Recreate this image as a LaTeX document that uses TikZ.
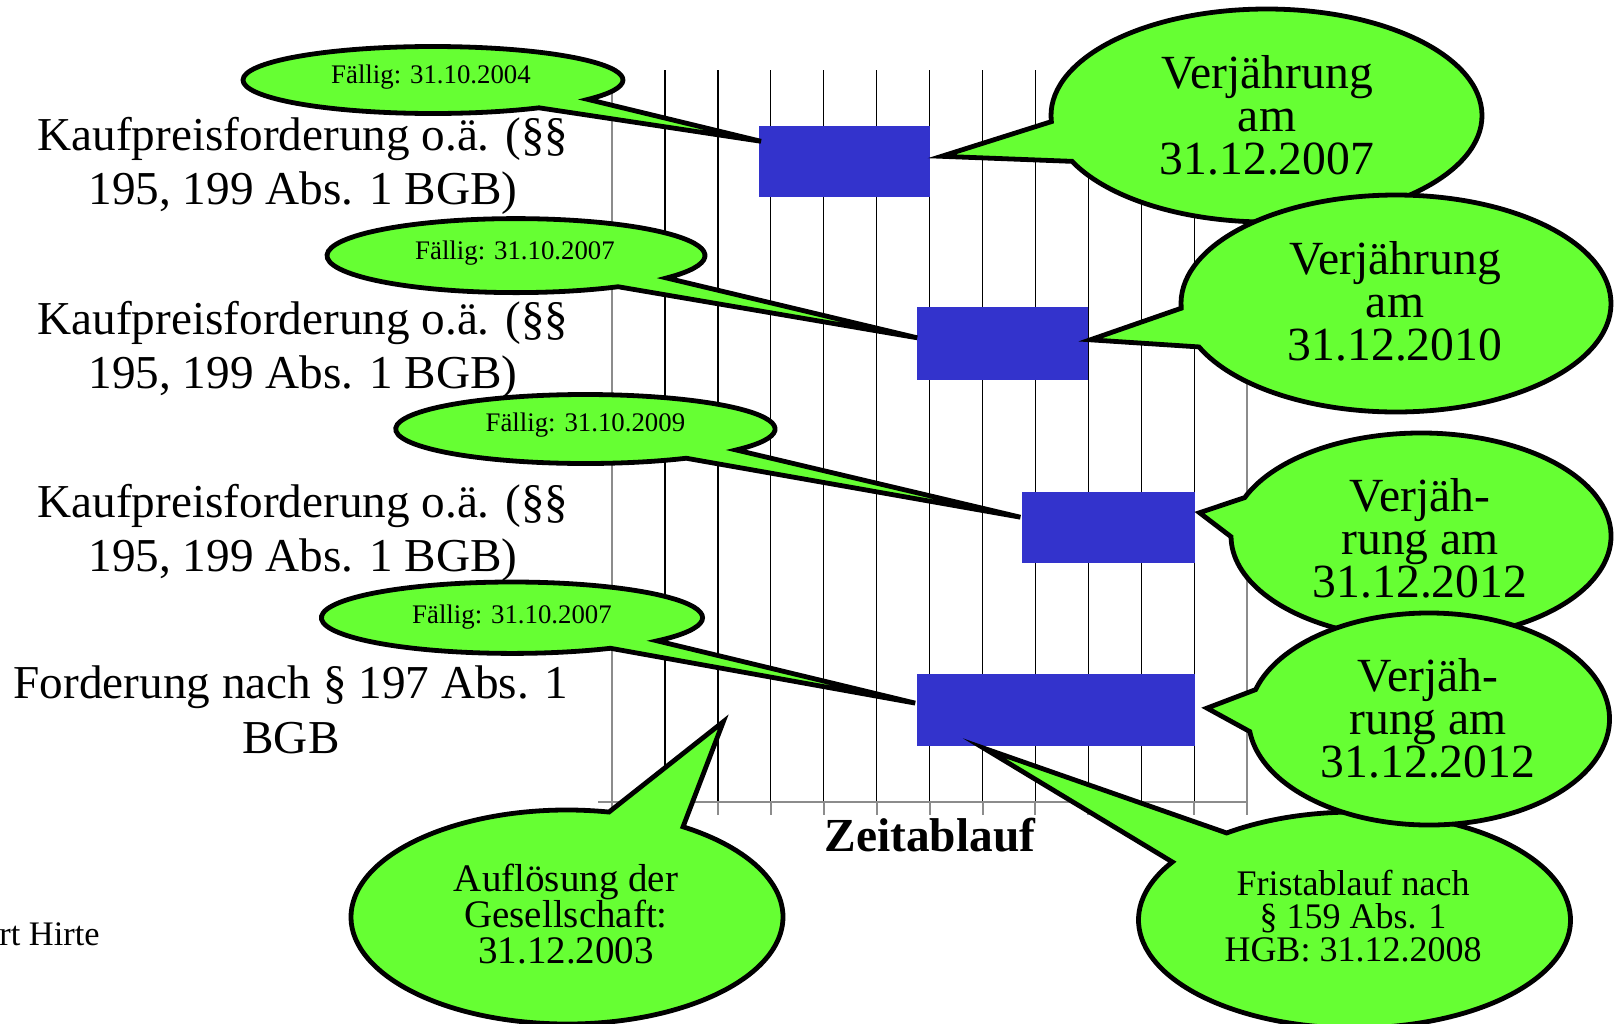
\documentclass[tikz,border=0pt]{standalone}
\usepackage{fontspec}
\setmainfont{Liberation Serif}
\usetikzlibrary{calc}

\definecolor{bubblegreen}{HTML}{66FF33}
\definecolor{barblue}{HTML}{3333CC}
\definecolor{axisgray}{HTML}{8C8C8C}

\tikzset{
  bubble/.style={fill=bubblegreen, draw=black, line width=2.4pt, line join=miter},
  bar/.style={fill=barblue, draw=none, inner sep=0pt, outer sep=0pt, anchor=north west},
  yearline/.style={black, line width=0.65pt},
  frameline/.style={axisgray, line width=1pt},
  rowlabel/.style={align=center, inner sep=0pt, font=\fontsize{23.6}{27.3}\selectfont},
  duetext/.style={inner sep=0pt, font=\fontsize{13.4}{15}\selectfont},
  expirytext/.style={align=center, inner sep=0pt, font=\fontsize{23.8}{21.5}\selectfont},
  dissoltext/.style={align=center, inner sep=0pt, font=\fontsize{19.5}{18}\selectfont},
  periodtext/.style={align=center, inner sep=0pt, font=\fontsize{18}{16.3}\selectfont},
}

% speech bubble: centre, x radius, y radius, first base angle, tip,
% second base angle, end angle of the outer arc
\newcommand{\speechbubble}[7]{%
  \draw[bubble] ($(#1)+({#2*cos(#4)},{#3*sin(#4)})$) -- (#5)
    -- ($(#1)+({#2*cos(#6)},{#3*sin(#6)})$)
    arc[start angle=#6, end angle=#7, x radius=#2, y radius=#3] -- cycle;}

\begin{document}
\begin{tikzpicture}[x=0.5pt, y=-0.5pt]
\clip (0,0) rectangle (1616,1023);
\path[use as bounding box] (0,0) rectangle (1616,1023);

% time grid: one column per year
\foreach \k in {1,...,11}
  \draw[yearline] ({612+52.93*\k},70) -- ({612+52.93*\k},801.7);
\draw[frameline] (612,70) -- (612,801.7);
\draw[frameline] (1247.2,70) -- (1247.2,801.7);
\draw[frameline] (598,801.7) -- (1247.2,801.7);
\foreach \k in {0,...,12}
  \draw[frameline] ({612+52.93*\k},801.7) -- ({612+52.93*\k},815);

% claim periods
\node[bar, minimum width=85.55pt, minimum height=35.6pt] (box1) at (758.5,125.7) {};
\node[bar, minimum width=85.55pt, minimum height=36.5pt] (box2) at (917.2,307.3) {};
\node[bar, minimum width=86.05pt, minimum height=35.6pt] (box3) at (1022.4,491.6) {};
\node[bar, minimum width=138.65pt, minimum height=36.1pt] (box4) at (917.2,674) {};

% row labels
\node[rowlabel] (row1) at (303,166) {Kaufpreisforderung o.ä. (§§\\195, 199 Abs. 1 BGB)};
\node[rowlabel] (row2) at (303,350) {Kaufpreisforderung o.ä. (§§\\195, 199 Abs. 1 BGB)};
\node[rowlabel] (row3) at (303,533) {Kaufpreisforderung o.ä. (§§\\195, 199 Abs. 1 BGB)};
\node[rowlabel] (row4) at (291,710) {Forderung nach § 197 Abs. 1\\BGB};

\node[font=\bfseries\fontsize{23.7}{26}\selectfont, inner sep=0pt] (axislabel) at (930,835) {Zeitablauf};
\node[anchor=base east, inner sep=0pt, font=\fontsize{17.2}{20}\selectfont] (author) at (100,945) {rt Hirte};

% bubble centres and tips
\coordinate (cD1) at (433,80);
\coordinate (cD2) at (516,255.6);
\coordinate (cD3) at (585.4,429);
\coordinate (cD4) at (512,617.7);
\coordinate (cV1) at (1266.5,115.5);
\coordinate (cV2) at (1396,303.5);
\coordinate (cV3) at (1421,536);
\coordinate (cV4) at (1429,719);
\coordinate (cA) at (567,917);
\coordinate (cF) at (1354.5,920);

\coordinate (tD1) at ($(box1.west)+(2.5,-20)$);
\coordinate (tD2) at ($(box2.west)+(0,-6)$);
\coordinate (tD3) at ($(box3.west)+(-2,-10)$);
\coordinate (tD4) at ($(box4.west)+(-2,-7)$);
\coordinate (tV1) at ($(box1.east)+(12,-5)$);
\coordinate (tV2) at ($(box2.east)+(2,-4)$);
\coordinate (tV3) at ($(box3.east)+(5,-14.5)$);
\coordinate (tV4) at ($(box4.east)+(12.5,-2)$);
\coordinate (tF) at ($(box4.south)+(-72,2)$);
\coordinate (tA) at (723.3,721.7);

% dissolution and limitation period bubbles
\speechbubble{cA}{216}{107}{302.5}{tA}{281.2}{-57.5}
\node[dissoltext] (dissol) at (566,914) {Auflösung der\\Gesellschaft:\\31.12.2003};

\speechbubble{cF}{216}{108}{233.7}{tF}{212.5}{-126.3}
\node[periodtext] (period) at (1353,916) {Fristablauf nach\\§ 159 Abs. 1\\HGB: 31.12.2008};

% due dates
\speechbubble{cD1}{190}{33.5}{35.4}{tD1}{56.1}{395.4}
\node[duetext] (due1) at (431,77) {Fällig: 31.10.2004};
\speechbubble{cD2}{189}{37}{37.2}{tD2}{57.3}{397.2}
\node[duetext] (due2) at (515,253.5) {Fällig: 31.10.2007};
\speechbubble{cD3}{189.7}{34.5}{37.4}{tD3}{57.9}{397.4}
\node[duetext] (due3) at (585.4,425) {Fällig: 31.10.2009};
\speechbubble{cD4}{190.6}{35.7}{40.4}{tD4}{58.9}{400.4}
\node[duetext] (due4) at (512,617) {Fällig: 31.10.2007};

% expiry dates
\speechbubble{cV1}{215.5}{106.5}{154.5}{tV1}{176.7}{514.5}
\node[expirytext] (exp1) at (1267,115) {Verjährung\\am\\31.12.2007};
\speechbubble{cV2}{215}{108.5}{156.4}{tV2}{177.5}{516.4}
\node[expirytext] (exp2) at (1395,301) {Verjährung\\am\\31.12.2010};
\speechbubble{cV3}{190}{103}{179.6}{tV3}{201.9}{539.6}
\node[expirytext] (exp3) at (1420,538.5) {Verjäh-\\rung am\\31.12.2012};
\speechbubble{cV4}{180.5}{106}{173.2}{tV4}{196.1}{533.2}
\node[expirytext] (exp4) at (1428,718) {Verjäh-\\rung am\\31.12.2012};
\end{tikzpicture}
\end{document}
